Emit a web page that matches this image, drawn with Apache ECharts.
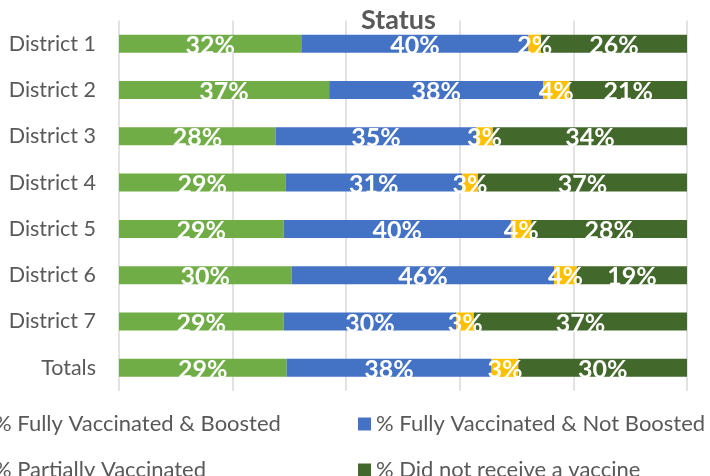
<!DOCTYPE html>
<html>
<head>
<meta charset="utf-8">
<script src="https://cdn.jsdelivr.net/npm/echarts@6/dist/echarts.min.js"></script>
<style>
	html, body { margin: 0; padding: 0; background: #fff; }
	#chart { width: 710px; height: 476px; }
</style>
</head>
<body>
<div id="chart"></div>
<script>
	// 分类
	const categories = ['District 1', 'District 2', 'District 3', 'District 4', 'District 5', 'District 6', 'District 7', 'Totals']
	const seriesNames = ['% Fully Vaccinated & Boosted', '% Fully Vaccinated & Not Boosted', '% Partially Vaccinated', '% Did not receive a vaccine']

	// bar lengths
	const boosted = [0.321, 0.370, 0.276, 0.293, 0.290, 0.304, 0.290, 0.295]
	const notBoosted = [0.400, 0.377, 0.353, 0.311, 0.400, 0.462, 0.304, 0.361]
	const partial = [0.022, 0.046, 0.029, 0.028, 0.036, 0.040, 0.031, 0.047]
	const none = [0.257, 0.207, 0.342, 0.368, 0.274, 0.194, 0.375, 0.297]

	// data labels as printed
	const boostedLabels = ['32%', '37%', '28%', '29%', '29%', '30%', '29%', '29%']
	const notBoostedLabels = ['40%', '38%', '35%', '31%', '40%', '46%', '30%', '38%']
	const partialLabels = ['2%', '4%', '3%', '3%', '4%', '4%', '3%', '3%']
	const noneLabels = ['26%', '21%', '34%', '37%', '28%', '19%', '37%', '30%']

	const colors = ['#70AD47', '#4472C4', '#FFC000', '#43682B']
	const values = [boosted, notBoosted, partial, none]
	const labels = [boostedLabels, notBoostedLabels, partialLabels, noneLabels]

	const font = 'Lato, "Open Sans", sans-serif'

	// legend: 2 columns x 2 rows, left column partly cut off
	const legendPos = [[-24, 413], [358, 413], [-24, 459], [358, 459]]

	const chart = echarts.init(document.getElementById('chart'))
	const option = {
		animation: false,
		color: colors,
		title: {
			text: 'Status',
			left: 356,
			top: 2,
			textStyle: { fontFamily: font, fontSize: 27, fontWeight: 'bold', color: '#595959' }
		},
		legend: seriesNames.map((name, i) => ({
			left: legendPos[i][0],
			top: legendPos[i][1],
			padding: 0,
			itemWidth: 13,
			itemHeight: 13,
			itemGap: 0,
			icon: 'rect',
			data: [name],
			textStyle: { fontFamily: font, fontSize: 22, color: '#595959' }
		})),
		grid: { left: 119, right: 23, top: 20.5, bottom: 85 },
		xAxis: {
			type: 'value',
			min: 0,
			max: 1,
			interval: 0.2,
			axisLabel: { show: false },
			axisLine: { show: false },
			axisTick: { show: false },
			splitLine: { lineStyle: { color: '#D9D9D9', width: 1.5 } }
		},
		yAxis: {
			type: 'category',
			inverse: true,
			data: categories,
			axisLine: { show: false },
			axisTick: { show: false },
			axisLabel: { margin: 23, fontFamily: font, fontSize: 21.5, color: '#595959' }
		},
		series: seriesNames.map((name, i) => ({
			name: name,
			type: 'bar',
			stack: 'total',
			barWidth: 18,
			data: values[i],
			label: {
				show: true,
				position: 'inside',
				offset: [0, 2],
				formatter: p => labels[i][p.dataIndex],
				fontFamily: font,
				fontSize: 25,
				fontWeight: 'bold',
				color: '#fff'
			}
		}))
	}
	chart.setOption(option)
</script>
</body>
</html>
